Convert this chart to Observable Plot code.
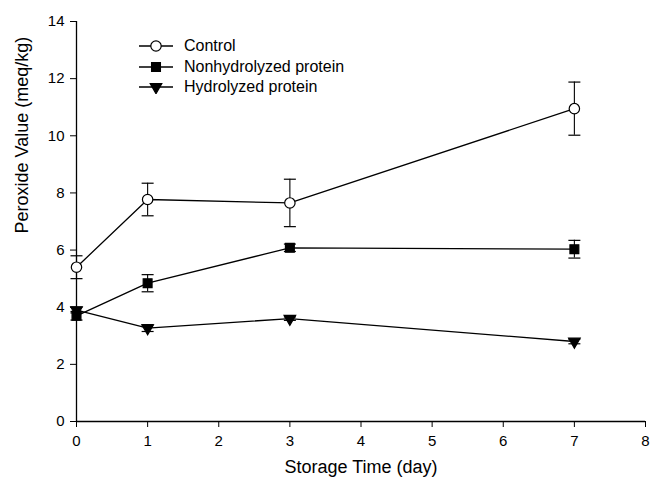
<!DOCTYPE html>
<html>
<head>
<meta charset="utf-8">
<script src="https://cdn.jsdelivr.net/npm/d3@7"></script>
<script src="https://cdn.jsdelivr.net/npm/@observablehq/plot@0.6"></script>
<style>
  html, body { margin: 0; padding: 0; background: #fff; }
  #wrap { position: relative; width: 652px; height: 481px; font-family: "Liberation Sans", Arial, sans-serif; }
  #legend { position: absolute; left: 138px; top: 36px; font-size: 16px; color: #000; line-height: 20.5px; }
  #legend div { display: flex; align-items: center; white-space: nowrap; }
  #legend svg { margin-right: 10px; }
</style>
</head>
<body>
<div id="wrap"><div id="legend"></div></div>
<script>
const days = [0, 1, 3, 7];
const seriesNames = ["Control", "Nonhydrolyzed protein", "Hydrolyzed protein"];
const controlMean = [5.40, 7.77, 7.65, 10.95];
const controlErr  = [0.40, 0.57, 0.83, 0.93];
const nonhydMean  = [3.70, 4.84, 6.08, 6.03];
const nonhydErr   = [0.15, 0.30, 0.13, 0.31];
const hydMean     = [3.90, 3.27, 3.60, 2.80];
const hydErr      = [0.10, 0.12, 0.06, 0.08];
const xTicks = [0, 1, 2, 3, 4, 5, 6, 7, 8];
const yTicks = [0, 2, 4, 6, 8, 10, 12, 14];
const xTitle = "Storage Time (day)";
const yTitle = "Peroxide Value (meq/kg)";

const means = [controlMean, nonhydMean, hydMean];
const errs = [controlErr, nonhydErr, hydErr];
const rows = [];
seriesNames.forEach((s, i) => days.forEach((d, j) => rows.push({series: s, day: d, v: means[i][j], e: errs[i][j]})));

const cap = { draw(ctx, size) { const w = Math.sqrt(size / Math.PI); ctx.moveTo(-w, 0); ctx.lineTo(w, 0); } };
const sty = {
  "Control": {symbol: "circle", fill: "white", r: 5.2, rotate: 0},
  "Nonhydrolyzed protein": {symbol: "square", fill: "black", r: 5.0, rotate: 0},
  "Hydrolyzed protein": {symbol: "triangle", fill: "black", r: 4.3, rotate: 180}
};

const dotMarks = seriesNames.map(s => Plot.dot(rows.filter(r => r.series === s), {
  x: "day", y: "v", symbol: () => sty[s].symbol, fill: sty[s].fill, stroke: "black",
  strokeWidth: 1.2, r: sty[s].r, rotate: sty[s].rotate
}));

const chart = Plot.plot({
  width: 652, height: 481,
  marginLeft: 76, marginRight: 7, marginTop: 21, marginBottom: 60,
  style: {fontFamily: "Liberation Sans, Arial, sans-serif", fontSize: "15px", color: "black", background: "white"},
  x: {domain: [0, 8]},
  y: {domain: [0, 14]},
  symbol: {type: "identity"},
  marks: [
    Plot.axisX({ticks: xTicks, tickSize: 6, tickPadding: 8, label: null, fontSize: 15}),
    Plot.axisY({ticks: yTicks, tickSize: 6, tickPadding: 6, label: null, fontSize: 15}),
    Plot.ruleY([0], {strokeWidth: 1.3}),
    Plot.ruleX([0], {strokeWidth: 1.3}),
    Plot.line(rows, {x: "day", y: "v", z: "series", stroke: "black", strokeWidth: 1.3}),
    Plot.ruleX(rows, {x: "day", y1: d => d.v - d.e, y2: d => d.v + d.e, stroke: "black", strokeWidth: 1.1}),
    Plot.dot(rows, {x: "day", y: d => d.v + d.e, symbol: () => cap, r: 6, stroke: "black", strokeWidth: 1.2, fill: "none"}),
    Plot.dot(rows, {x: "day", y: d => d.v - d.e, symbol: () => cap, r: 6, stroke: "black", strokeWidth: 1.2, fill: "none"}),
    ...dotMarks,
    Plot.text([xTitle], {frameAnchor: "bottom", dy: 51, fontSize: 18, text: d => d}),
    Plot.text([yTitle], {frameAnchor: "left", dx: -54, dy: 12, rotate: -90, fontSize: 18, text: d => d})
  ]
});
document.getElementById("wrap").prepend(chart);

// legend (HTML overlay)
const legend = d3.select("#legend");
seriesNames.forEach(s => {
  const row = legend.append("div");
  const svg = row.append("svg").attr("width", 36).attr("height", 14);
  svg.append("line").attr("x1", 1).attr("x2", 35).attr("y1", 7).attr("y2", 7).attr("stroke", "black").attr("stroke-width", 1.3);
  const st = sty[s];
  const sym = st.symbol === "circle" ? d3.symbolCircle : st.symbol === "square" ? d3.symbolSquare : d3.symbolTriangle;
  svg.append("path").attr("d", d3.symbol(sym, Math.PI * st.r * st.r)())
    .attr("transform", `translate(18,7) rotate(${st.rotate})`)
    .attr("fill", st.fill).attr("stroke", "black").attr("stroke-width", 1.2);
  row.append("span").text(s);
});
</script>
</body>
</html>
